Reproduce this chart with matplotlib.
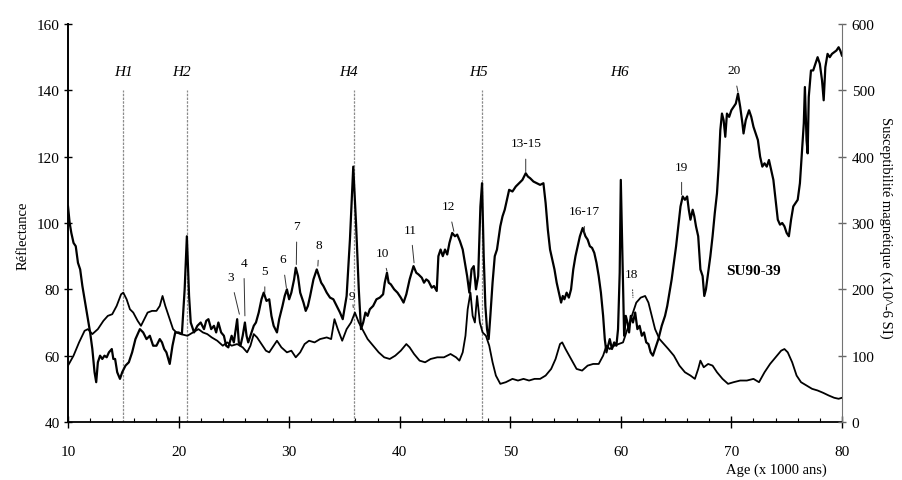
import numpy as np
import matplotlib
matplotlib.use("Agg")
import matplotlib.pyplot as plt

plt.rcParams['font.family'] = ['Liberation Serif', 'DejaVu Serif']

# reflectance curve (left axis)
age_refl = [10.0, 10.15, 10.3, 10.5, 10.7, 10.9, 11.1, 11.3, 11.5, 11.75, 12.0, 12.2, 12.4, 12.55, 12.7, 12.9,
            13.1, 13.3, 13.5, 13.7, 13.96, 14.1, 14.26, 14.45, 14.7, 14.9, 15.2, 15.5, 15.8, 16.1, 16.5, 16.8,
            17.1, 17.4, 17.7, 18.0, 18.3, 18.5, 18.7, 18.9, 19.2, 19.45, 19.7, 20.0, 20.3, 20.55, 20.75, 20.95,
            21.1, 21.4, 21.7, 22.0, 22.3, 22.5, 22.7, 22.95, 23.2, 23.4, 23.6, 23.85, 24.1, 24.3, 24.5, 24.8,
            25.0, 25.3, 25.45, 25.6, 25.8, 26.0, 26.15, 26.3, 26.5, 26.8, 27.0, 27.25, 27.5, 27.7, 27.95, 28.2,
            28.4, 28.6, 28.9, 29.1, 29.4, 29.6, 29.8, 30.0, 30.2, 30.45, 30.6, 30.8, 31.0, 31.3, 31.5, 31.7,
            31.9, 32.2, 32.5, 32.7, 32.9, 33.1, 33.4, 33.7, 34.0, 34.3, 34.6, 34.85, 35.2, 35.5, 35.8, 36.05,
            36.3, 36.5, 36.7, 36.9, 37.1, 37.3, 37.6, 37.9, 38.2, 38.5, 38.65, 38.85, 39.0, 39.2, 39.5, 39.8,
            40.1, 40.35, 40.6, 40.9, 41.25, 41.5, 41.7, 42.0, 42.2, 42.4, 42.6, 42.9, 43.1, 43.35, 43.5, 43.7,
            43.9, 44.1, 44.3, 44.5, 44.75, 45.0, 45.2, 45.45, 45.7, 45.9, 46.1, 46.3, 46.5, 46.7, 46.9, 47.1,
            47.3, 47.45, 47.6, 47.75, 47.9, 48.05, 48.2, 48.4, 48.6, 48.8, 49.1, 49.3, 49.5, 49.7, 49.9, 50.2,
            50.5, 50.8, 51.1, 51.4, 51.6, 51.8, 52.1, 52.4, 52.7, 53.0, 53.2, 53.4, 53.6, 53.8, 54.0, 54.2,
            54.4, 54.6, 54.75, 54.9, 55.1, 55.3, 55.5, 55.7, 55.9, 56.1, 56.3, 56.55, 56.8, 57.0, 57.2, 57.4,
            57.6, 57.8, 58.0, 58.2, 58.4, 58.55, 58.7, 58.85, 59.0, 59.2, 59.4, 59.6, 59.75, 59.9, 60.0, 60.15,
            60.3, 60.45, 60.6, 60.75, 60.9, 61.1, 61.3, 61.5, 61.7, 61.9, 62.1, 62.3, 62.5, 62.7, 62.9, 63.1,
            63.4, 63.7, 64.0, 64.2, 64.4, 64.6, 64.8, 65.0, 65.2, 65.4, 65.6, 65.8, 66.0, 66.15, 66.3, 66.5,
            66.65, 66.8, 67.0, 67.2, 67.4, 67.55, 67.7, 67.9, 68.1, 68.3, 68.5, 68.7, 68.85, 69.0, 69.15, 69.3,
            69.45, 69.6, 69.8, 70.0, 70.2, 70.4, 70.6, 70.8, 71.0, 71.1, 71.3, 71.6, 71.8, 72.0, 72.2, 72.4,
            72.6, 72.8, 73.0, 73.2, 73.4, 73.6, 73.8, 74.0, 74.2, 74.4, 74.6, 74.8, 75.0, 75.2, 75.4, 75.6,
            75.8, 76.0, 76.2, 76.4, 76.55, 76.65, 76.8, 76.9, 77.0, 77.2, 77.4, 77.6, 77.8, 78.0, 78.2, 78.35,
            78.5, 78.7, 78.9, 79.1, 79.3, 79.5, 79.7, 79.85, 80.0]
refl = [105, 100, 97, 94, 93, 88, 86, 81, 77, 72, 67, 62, 55, 52, 58, 60,
        59, 60, 59.5, 61, 62, 59, 59, 55, 53, 55, 57, 58, 61, 65, 68, 67,
        65, 66, 63, 63, 65, 64, 62, 61, 57.5, 63, 67, 67, 66.5, 80, 96, 78,
        70, 67, 69, 70, 68, 70.5, 71, 68, 69, 67, 70, 67, 66, 63, 62.5, 66,
        64, 71, 64, 63, 66, 70, 66, 64, 66, 69, 70, 73, 77, 79, 76.5, 77,
        72, 69, 67, 71, 75, 78, 80, 77, 79, 83, 86.5, 84, 79, 76, 73.5, 75,
        78, 83, 86, 84, 82, 81, 79, 77.5, 77, 75, 73, 71, 78, 95, 117, 100,
        80, 68, 70, 73, 72, 74, 75, 77, 77.5, 78.5, 82, 85, 82, 81.5, 80, 79,
        77.5, 76, 78.5, 83, 87, 85, 84.5, 83.5, 82, 83, 82.5, 80.5, 81, 79.5, 90, 92,
        90, 92, 90.5, 94, 97, 96, 96.5, 94.5, 92, 88, 84, 79, 86, 87, 80, 84,
        105, 112, 90, 75, 68, 65, 72, 82, 90, 92, 99, 102, 104, 107, 110, 109.5,
        111, 112, 113, 115, 114, 113.5, 112.5, 112, 111.5, 112, 106, 98, 92, 89, 86, 82,
        79, 76, 78, 77, 79, 77.5, 80, 86, 90, 93, 96, 98.5, 96, 95, 93, 92.5,
        91, 88, 84, 79, 72, 65, 61, 63, 65, 62, 64, 63, 68, 85, 113, 90,
        66, 72, 70, 67, 72, 70, 73, 68, 69, 66, 67, 64, 63.5, 61, 60, 62,
        65, 69, 72, 75, 79, 83, 88, 93, 99, 105, 108, 107, 108, 104, 101, 104,
        102, 99, 96, 86, 84, 78, 80, 85, 90, 96, 103, 109, 117, 128, 133, 131,
        126, 133, 132, 134, 135, 136, 139, 135, 130, 127, 131, 134, 132, 129, 127, 125,
        120, 117, 118, 117, 119, 116, 113, 107, 101, 99.5, 100, 99, 97, 96, 101, 105,
        106, 107, 112, 122, 130, 141, 125, 121, 138, 146, 146, 148, 150, 148, 143, 137,
        147, 151, 150, 151, 151.5, 152, 153, 152, 150.5]

# magnetic susceptibility curve (right axis, x10^-6 SI)
age_susc = [10.0, 10.5, 11.0, 11.5, 11.8, 12.2, 12.7, 13.2, 13.6, 14.0, 14.4, 14.8, 15.0, 15.3, 15.6, 15.9,
            16.3, 16.6, 16.9, 17.2, 17.6, 18.0, 18.3, 18.55, 18.8, 19.1, 19.5, 19.8, 20.2, 20.8, 21.3, 21.8,
            22.2, 22.6, 23.0, 23.5, 24.0, 24.4, 24.8, 25.3, 25.8, 26.2, 26.5, 26.8, 27.1, 27.5, 27.9, 28.2,
            28.6, 28.9, 29.3, 29.8, 30.2, 30.6, 31.0, 31.4, 31.8, 32.3, 32.8, 33.4, 33.8, 34.1, 34.4, 34.8,
            35.2, 35.6, 35.95, 36.3, 36.7, 37.1, 37.6, 38.1, 38.6, 39.1, 39.6, 40.1, 40.6, 40.9, 41.3, 41.8,
            42.3, 42.8, 43.4, 44.0, 44.6, 45.1, 45.4, 45.7, 45.95, 46.15, 46.4, 46.6, 46.8, 47.0, 47.25, 47.5,
            47.8, 48.1, 48.4, 48.7, 49.1, 49.6, 50.2, 50.7, 51.2, 51.7, 52.2, 52.7, 53.2, 53.7, 54.1, 54.5,
            54.7, 55.0, 55.5, 56.0, 56.5, 57.0, 57.5, 58.0, 58.4, 58.7, 59.0, 59.4, 59.8, 60.2, 60.6, 61.0,
            61.4, 61.8, 62.2, 62.5, 62.8, 63.1, 63.5, 63.9, 64.3, 64.8, 65.3, 65.8, 66.3, 66.7, 67.0, 67.2,
            67.5, 67.9, 68.3, 68.7, 69.2, 69.7, 70.2, 70.8, 71.4, 72.0, 72.5, 73.0, 73.5, 74.0, 74.5, 74.8,
            75.1, 75.5, 75.9, 76.3, 76.8, 77.3, 77.8, 78.3, 78.8, 79.3, 79.7, 80.0]
susc = [85, 100, 120, 137.5, 140, 132.5, 140, 152.5, 160, 162.5, 175, 192.5, 195, 185, 170, 165,
        152.5, 145, 155, 165, 167.5, 167.5, 175, 190, 175, 160, 140, 135, 132.5, 130, 135, 140,
        135, 132.5, 127.5, 122.5, 115, 120, 115, 117.5, 112.5, 105, 115, 132.5, 127.5, 117.5, 107.5, 105,
        115, 122.5, 112.5, 105, 107.5, 97.5, 105, 117.5, 122.5, 120, 125, 127.5, 125, 155, 140, 122.5,
        140, 150, 165, 150, 137.5, 125, 115, 105, 97.5, 95, 100, 107.5, 117.5, 112.5, 102.5, 92.5,
        90, 95, 97.5, 97.5, 102.5, 97.5, 92.5, 105, 130, 170, 195, 160, 150, 190, 150, 135,
        130, 115, 90, 70, 57.5, 60, 65, 62.5, 65, 62.5, 65, 65, 70, 80, 95, 117.5,
        120, 110, 95, 80, 77.5, 85, 87.5, 87.5, 100, 115, 110, 115, 117.5, 120, 140, 160,
        180, 187.5, 190, 180, 160, 140, 125, 117.5, 110, 100, 85, 75, 70, 65, 80, 92.5,
        82.5, 87.5, 85, 75, 65, 57.5, 60, 62.5, 62.5, 65, 60, 75, 87.5, 97.5, 107.5, 110,
        105, 90, 70, 60, 55, 50, 47.5, 44, 40, 36.5, 35, 36.5]

# Heinrich events
h_names = ['H1', 'H2', 'H4', 'H5', 'H6']
h_label_x = [15.0, 20.3, 35.4, 47.1, 59.9]
h_line_x = [15.0, 20.8, 35.9, 47.45]

# numbered peaks: label position and tip of leader line
peak_names = ['3', '4', '5', '6', '7', '8', '9', '10', '11', '12', '13-15', '16-17', '18', '19', '20']
peak_tx = [24.7, 25.9, 27.8, 29.4, 30.7, 32.7, 35.7, 38.4, 41.0, 44.4, 51.4, 56.7, 61.0, 65.5, 70.2]
peak_ty = [83.7, 88.0, 85.5, 89.0, 99.0, 93.5, 78.0, 91.0, 98.0, 105.0, 124.0, 103.7, 84.6, 117.0, 146.0]
peak_px = [25.5, 26.0, 27.8, 29.75, 30.65, 32.6, 35.8, 38.85, 41.3, 44.9, 51.4, 56.7, 61.1, 65.5, 70.6]
peak_py = [72.5, 72.0, 79.0, 80.5, 87.5, 87.0, 74.5, 85.5, 88.0, 97.5, 115.5, 97.0, 77.5, 108.5, 139.5]

fig = plt.figure(figsize=(9.02, 4.81), dpi=100)
ax1 = fig.add_axes([0.0754, 0.1206, 0.858, 0.8274])
ax2 = ax1.twinx()

ax1.plot(age_refl, refl, color='black', lw=1.6, zorder=3)
ax2.plot(age_susc, susc, color='black', lw=1.3, zorder=3)

ax1.vlines(h_line_x, 40, 140, colors='0.55', lw=0.9, linestyles=(0, (2, 1)), zorder=2)
for name, hx in zip(h_names, h_label_x):
    ax1.text(hx, 145.8, name, style='italic', fontsize=11, ha='center', va='center')

for i, name in enumerate(peak_names):
    ls = ':' if name == '18' else '-'
    ax1.annotate(name, xy=(peak_px[i], peak_py[i]), xytext=(peak_tx[i], peak_ty[i]),
                 ha='center', va='center', fontsize=9.5,
                 arrowprops=dict(arrowstyle='-', lw=0.7, color='0.2', ls=ls, shrinkA=5, shrinkB=0))

ax1.text(72.0, 85.6, 'SU90-39', fontsize=11, fontweight='bold', ha='center', va='center')

ax1.set_xlim(10, 80)
ax1.set_ylim(40, 160)
ax2.set_ylim(0, 600)
ax1.set_xticks(np.arange(10, 81, 10))
ax1.set_xticks(np.arange(10, 81, 2), minor=True)
ax1.set_yticks(np.arange(40, 161, 20))
ax2.set_yticks(np.arange(0, 601, 100))

ax1.tick_params(axis='x', which='major', direction='inout', length=9, width=1, labelsize=11, pad=12)
ax1.tick_params(axis='x', which='minor', direction='in', length=3, width=0.8)
ax1.tick_params(axis='y', direction='inout', length=6, width=1, labelsize=11, pad=3)
ax2.tick_params(axis='y', direction='inout', length=6, width=1, labelsize=11, pad=4, color='0.4')

for s in ['top', 'right']:
    ax1.spines[s].set_visible(False)
ax2.spines['top'].set_visible(False)
ax2.spines['left'].set_visible(False)
ax2.spines['bottom'].set_visible(False)
ax2.spines['right'].set_color('0.45')
ax2.spines['right'].set_linestyle((0, (6, 1)))
ax1.spines['left'].set_linewidth(1.4)
ax1.spines['bottom'].set_linewidth(1.3)

ax1.set_ylabel('Réflectance', fontsize=10.5)
ax1.yaxis.set_label_coords(-0.049, 0.47)
ax2.set_ylabel('Susceptibilité magnétique (x10^-6 SI)', fontsize=10.5, rotation=270, va='center')
ax2.yaxis.set_label_coords(1.056, 0.49)
ax1.set_xlabel('Age (x 1000 ans)', fontsize=10.5, va='center')
ax1.xaxis.set_label_coords(0.915, -0.118)

fig.savefig('out.png', dpi=100, facecolor='white')
